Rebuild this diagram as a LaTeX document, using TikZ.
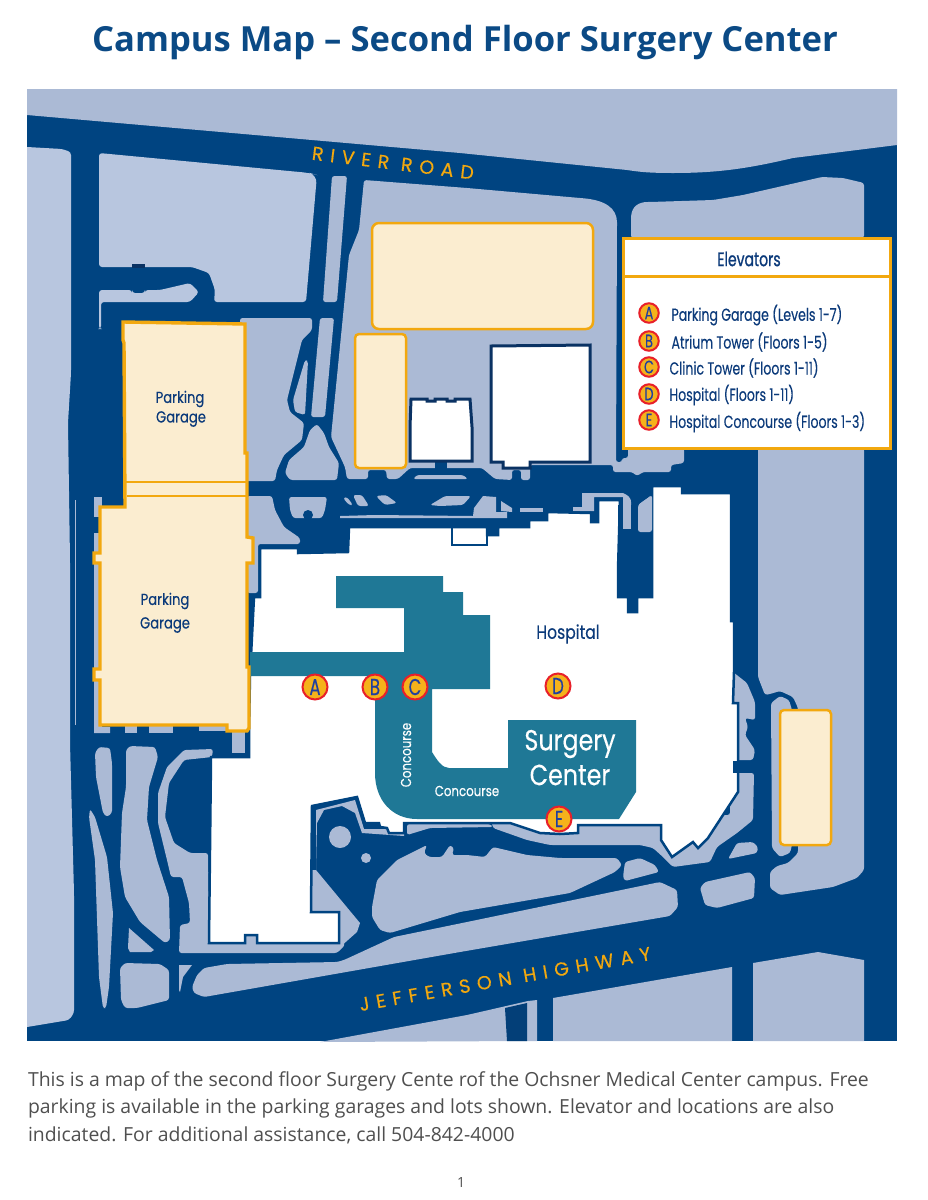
\documentclass[tikz,border=0pt]{standalone}
\usepackage{fontspec}
\setmainfont{Open Sans}
\newfontfamily\futurafont[FakeStretch=0.82,FakeBold=0.25]{Poppins}
\newfontfamily\futuranarrow[FakeStretch=0.72,FakeBold=0.2]{Poppins}
\newfontfamily\futuraheavy[FakeStretch=0.72,FakeBold=0.9]{Poppins}
\newfontfamily\roadfont[LetterSpace=36,FakeBold=0.3]{Poppins}
\definecolor{roadblue}{HTML}{004481}
\definecolor{lotblue}{HTML}{ABBAD5}
\definecolor{paleblue}{HTML}{B8C6DF}
\definecolor{creamfill}{HTML}{FBEDD0}
\definecolor{garageline}{HTML}{F2A80F}
\definecolor{tealblock}{HTML}{1F7896}
\definecolor{inkblue}{HTML}{0B3A7A}
\definecolor{titleblue}{HTML}{0B4A85}
\definecolor{darkline}{HTML}{0A3263}
\definecolor{greytext}{HTML}{4F4F4F}
\definecolor{badgered}{HTML}{E8202A}
\definecolor{badgefill}{HTML}{F5B21B}
\definecolor{badgeink}{HTML}{1F3FA0}
\tikzset{
  lot/.style={fill=lotblue,rounded corners=2.5pt},
  palelot/.style={fill=paleblue,rounded corners=3pt},
  sharplot/.style={fill=lotblue},
  tower/.style={fill=white,draw=darkline,line width=3pt},
  hospitalshape/.style={fill=white,draw=roadblue,line width=2.5pt},
  lotbox/.style={fill=creamfill,draw=garageline,line width=2.5pt,rounded corners=7pt},
  garageshape/.style={fill=creamfill,draw=garageline,line width=3.4pt},
  badge/.style={circle,fill=badgefill,draw=badgered,line width=2pt,inner sep=0pt,minimum size=25pt,text=badgeink,font=\futuranarrow\fontsize{23}{23}\selectfont},
  keybadge/.style={badge,minimum size=19.5pt,font=\futuranarrow\fontsize{18}{18}\selectfont},
  keytext/.style={anchor=west,text=inkblue,font=\futuranarrow\fontsize{17.4}{17.4}\selectfont},
  maplabel/.style={text=inkblue,font=\futurafont\fontsize{16}{16}\selectfont},
  concourselabel/.style={text=white,font=\futurafont\fontsize{14.4}{14.4}\selectfont},
  surgerylabel/.style={text=white,font=\futurafont\fontsize{29}{29}\selectfont},
  roadlabel/.style={text=garageline,font=\roadfont\fontsize{19}{19}\selectfont},
  footline/.style={anchor=west,text=greytext,font=\fontseries{l}\fontsize{19.4}{19.4}\selectfont},
}
\begin{document}
\begin{tikzpicture}[x=1pt,y=-1pt]
    \useasboundingbox (0,0) rectangle (927,1200);
    \fill[roadblue] (27,89) rectangle (897,1041);

    \fill[sharplot] (27,89) -- (897,89) -- (897,145) -- (793,158) .. controls (750,168) and (720,173) .. (673,173) .. controls (650,173) and (640,172) .. (627,170) -- (460,153) -- (27,115) -- cycle;
    \fill[fill=paleblue] (27,147) [rounded corners=3pt] -- (62,149) -- (71,152) -- (71,373) -- (68,423) -- (70,560) -- (70,743) -- (74,893) -- (74,1013) -- (69,1020) [sharp corners] -- (27,1027) -- cycle;
    \fill[fill=paleblue,rounded corners=8pt] (99,153) -- (310,173) -- (317,175) [rounded corners=3pt] -- (306,302) -- (214,302) -- (215,290) -- (209,273) -- (192,267) -- (99,267) -- cycle;
    \fill[darkline] (132,264) rectangle (145,268);
    \fill[palelot] (99,290) -- (132,290) -- (132,293) -- (145,293) -- (145,290) -- (160,290) -- (190,283) -- (199,292) -- (190,302) -- (101,302) -- (101,329) -- (99,329) -- cycle;
    \fill[lot] (332,176) -- (347,176) -- (337,302) -- (323,302) -- cycle;

    \fill[lot] (364,180) -- (467,188) -- (580,198) .. controls (605,200) and (617,208) .. (617,225) -- (616,462) -- (622,462) -- (622,458) -- (628,458) -- (628,448) -- (684,448) -- (684,463) -- (671,465) -- (671,472) -- (643,472) -- (637,476) -- (632,472) -- (613,472) -- (613,465) -- (530,465) -- (530,480) -- (521,480) -- (521,470) -- (512,470) -- (512,480) -- (495,479) -- (482,468) -- (410,468) -- (398,479) -- (387,479) -- (386,470) -- (368,470) -- (368,479) -- (347,479) -- (345,467) -- (331,437) -- (349,255) -- (359,230) -- cycle;
    \fill[roadblue] (435,458) rectangle (447,477);
    \fill[lot] (413,479) -- (417,475) -- (463,475) -- (468,479) -- cycle;
    \fill[lot] (631,238) -- (631,218) .. controls (632,207) and (638,202) .. (650,202) -- (713,200) -- (743,195) -- (822,177) -- (843,178) -- (864,183) -- (864,238) -- cycle;

    \fill[lot] (240,318) -- (312,318) -- (312,330) -- (302,340) -- (287,400) -- (290,412) -- (304,423) -- (302,440) -- (284,455) -- (277,470) -- (275,481) -- (240,481) -- cycle;
    \fill[lot] (305,360) -- (308,361) -- (305,415) -- (295,412) -- (293,400) -- cycle;
    \fill[lot] (320,318) -- (334,318) -- (325,417) -- (311,417) -- cycle;
    \fill[lot] (317,424) -- (324,433) -- (329,447) -- (339,463) -- (337,480) -- (290,480) -- (285,473) -- (289,460) -- (304,447) -- (310,430) -- cycle;

    \fill[lot] (289,497) -- (327,497) -- (325,510) -- (322,518) -- (293,518) -- (290,510) -- cycle;
    \fill[roadblue] (308,515) circle (5);
    \fill[lot] (343,498) -- (347,497) -- (353,505) -- (349,505) -- cycle;
    \fill[lot] (353,495) -- (362,495) -- (369,506) -- (358,506) -- cycle;
    \fill[lot] (376,496) -- (386,495) -- (397,503) -- (385,505) -- cycle;
    \fill[lot] (430,505) -- (445,496) -- (471,496) -- (463,505) -- (440,506) -- cycle;
    \fill[sharplot] (340,516) -- (375,515) -- (473,516) -- (474,508) -- (483,496) -- (496,497) -- (496,512) -- (507,512) -- (507,518) -- (340,518) -- cycle;
    \fill[sharplot] (501,501) -- (512,508) -- (512,512) -- (501,511) -- cycle;
    \fill[sharplot] (520,508) -- (543,508) -- (543,512) -- (520,512) -- cycle;
    \fill[sharplot] (573,507) -- (582,507) -- (582,493) -- (623,493) .. controls (628,495) and (631,498) .. (631,502) -- (631,529) -- (623,529) -- (623,497) -- (594,497) -- (594,511) -- (573,511) -- cycle;
    \fill[lot] (638,505) -- (652,495) -- (652,532) -- (638,532) -- cycle;
    \fill[lot] (247,496) -- (272,496) -- (275,510) -- (284,527) -- (300,538) -- (300,544) -- (258,544) -- (258,593) -- (247,593) -- cycle;

    % garage side strips
    \fill[sharplot] (94,497) rectangle (102,517);
    \fill[sharplot] (94,533) rectangle (102,733) (94,727) rectangle (110,733);
    \fill[sharplot] (125,725) rectangle (137,733);
    \fill[sharplot] (149,725) rectangle (173,733);
    \fill[sharplot] (199,725) rectangle (227,731);
    \fill[sharplot] (232,728) rectangle (245,753);
    \draw[lotblue,line width=0.6pt] (75,500) -- (75,725);

    \fill[lot] (213,749) -- (184,750) -- (167,767) -- (158,793) -- (158,823) -- (167,860) -- (171,877) -- (182,877) -- (189,903) -- (190,923) -- (180,925) -- (179,953) -- (337,953) -- (345,945) -- (339,930) -- (209,930) -- (208,853) -- (190,853) -- (174,843) -- (165,817) -- (169,783) -- (184,760) -- (212,757) -- cycle;
    \fill[lot] (99,747) -- (110,748) -- (112,763) -- (112,813) -- (107,817) -- (103,813) -- (96,777) -- (95,753) -- cycle;
    \fill[lot] (130,746) -- (155,747) -- (158,757) -- (149,787) -- (147,820) -- (157,860) -- (169,897) -- (170,940) -- (165,943) -- (140,922) -- (125,897) -- (120,867) -- (122,813) -- (126,787) -- (126,750) -- cycle;
    \fill[lot] (90,809) -- (95,817) -- (107,857) -- (113,913) -- (109,987) -- (106,1008) -- (103,1008) -- (99,977) -- (95,860) -- (89,817) -- cycle;
    \fill[sharplot] (129,928) -- (154,950) -- (151,952) -- (130,952) -- (128,948) -- cycle;
    \fill[lot] (125,963) -- (160,964) -- (169,970) -- (169,1000) -- (137,1008) -- (125,1008) -- (121,1000) -- (120,968) -- cycle;
    \fill[sharplot] (179,965) -- (192,965) -- (183,977) -- (180,992) -- (179,990) -- cycle;

    \fill[lot] (192,987) -- (197,975) -- (204,968) -- (227,964) -- (337,962) -- (344,960) -- (394,937) -- (467,922) -- (660,882) -- (677,890) -- (678,907) -- (670,916) -- (460,952) -- (204,997) -- (194,993) -- cycle;
    \fill[lot] (372,907) -- (377,880) -- (397,860) -- (427,845) -- (424,853) -- (429,857) -- (442,857) -- (450,845) -- (454,848) -- (452,855) -- (467,855) -- (485,857) -- (493,847) -- (527,855) -- (560,858) -- (617,858) -- (622,865) -- (615,872) -- (570,893) -- (460,912) -- (390,933) -- (380,930) -- (372,917) -- cycle;
    \fill[lot] (625,862) -- (640,858) -- (655,865) -- (659,872) -- (625,881) -- (623,877) -- cycle;
    \fill[lot] (700,888) -- (705,882) -- (750,872) -- (755,878) -- (754,898) -- (717,908) -- (705,905) -- cycle;
    \fill[lot] (728,859) -- (737,843) -- (753,842) -- (758,847) -- (757,853) -- cycle;

    \fill[lot] (758,448) -- (864,448) -- (864,870) -- (857,878) -- (833,887) -- (780,895) -- (770,888) -- (770,872) -- (777,866) -- (788,863) -- (798,853) -- (798,708) -- (793,697) -- (780,691) -- (770,694) -- (765,695) -- (758,677) -- cycle;
    \fill[lot] (771,703) -- (780,696) -- (789,700) -- (792,710) -- (792,845) -- (790,853) -- (780,857) -- (772,848) -- cycle;

    \fill[sharplot] (320,1042) -- (467,1015) -- (528,1001) -- (528,1041) -- cycle;
    \fill[darkline!30!roadblue] (505,1008) -- (527,1003) -- (527,1041) -- (507,1041) -- cycle;
    \fill[sharplot] (528,1001) -- (537,1000) -- (537,1041) -- (528,1041) -- cycle;
    \fill[sharplot] (553,998) -- (732,967) -- (732,1041) -- (553,1041) -- cycle;
    \fill[sharplot] (753,963) -- (818,952) -- (864,960) -- (864,1041) -- (753,1041) -- cycle;

    \fill[lot] (733,672) -- (747,683) -- (755,702) -- (755,720) -- (745,718) -- (748,727) -- (745,735) -- (755,750) -- (753,760) -- (730,760) -- cycle;
    \fill[lot] (730,773) -- (754,773) -- (753,820) -- (737,833) -- (717,847) -- (710,862) -- (673,867) -- (663,857) -- (653,848) -- (640,845) -- (550,845) -- (527,840) -- (493,828) -- (490,815) -- (730,815) -- cycle;
    \fill[lot] (407,824) -- (490,824) -- (493,827) -- (430,828) -- (407,835) -- cycle;
    \fill[sharplot] (316,810) -- (355,800) -- (364,829) -- (404,829) -- (404,836) -- (362,833) -- (355,813) -- (342,806) -- (324,810) -- (317,823) -- (316,870) -- cycle;
    \fill[sharplot] (316,870) -- (360,923) -- (357,932) -- (339,948) -- (300,948) -- (300,870) -- cycle;
    \fill[lotblue] (340,837) circle (11);
    \fill[lotblue] (366,858) circle (5);

    % hospital
    \draw[hospitalshape] (260,548) -- (298,548) -- (298,553) -- (348,552) -- (349,527) -- (487,527) -- (487,535) -- (498,535) -- (498,527) -- (529,527) -- (529,520) -- (547,520) -- (547,512) -- (591,513) -- (591,522) -- (598,522) -- (598,500) -- (620,500) -- (618,570) -- (618,597) -- (628,597) -- (628,612) -- (637,612) -- (637,597) -- (652,597) -- (652,486) -- (682,486) -- (682,493) -- (731,493) -- (731,621) -- (734,621) -- (734,672) -- (733,703) -- (738,703) -- (738,767) -- (738,792) -- (708,838) -- (698,848) -- (693,842) -- (672,857) -- (661,840) -- (661,825) -- (578,825) -- (578,833) -- (560,834) -- (540,833) -- (510,823) -- (404,823) -- (404,833) -- (389,833) -- (387,828) -- (380,827) -- (379,823) -- (365,823) -- (357,797) -- (312,806) -- (311,912) -- (339,912) -- (339,943) -- (257,943) -- (257,935) -- (245,935) -- (245,943) -- (209,943) -- (211,757) -- (249,757) -- (249,730) -- (250,676) -- (254,597) -- (260,597) -- cycle;
    \fill[roadblue] (618,505) rectangle (652,597);
    \fill[roadblue] (628,597) rectangle (637,612);
    \fill[lot] (638,505) -- (652,495) -- (652,532) -- (638,532) -- cycle;
    \fill[sharplot] (623,500) rectangle (631,529);
    \fill[roadblue] (733,761) rectangle (755,773);
    \draw[roadblue,line width=2.5pt] (452,527) -- (452,545) -- (487,545) -- (487,535);

    \fill[tealblock] (336,576) -- (443,576) -- (443,592) -- (463,592) -- (463,615) -- (490,615) -- (490,689) -- (432,689) -- (432,752) .. controls (437,760) and (442,768) .. (449,768) -- (508,768) -- (508,720) -- (636,720) -- (636,792) -- (619,819) -- (417,819) .. controls (392,819) and (375,800) .. (375,773) -- (375,676) -- (250,676) -- (250,652) -- (404,652) -- (404,608) -- (336,608) -- cycle;

    \draw[tower] (411,399) -- (427,399) -- (427,401) -- (435,401) -- (435,399) -- (447,399) -- (447,401) -- (455,401) -- (455,399) -- (470,399) -- (472,427) -- (472,461) -- (410,461) -- (410,427) -- cycle;
    \draw[tower] (491,346) -- (590,345) -- (590,462) -- (530,462) -- (530,468) -- (503,468) -- (503,462) -- (491,462) -- cycle;

    \draw[lotbox] (372,223) rectangle (593,329);
    \draw[lotbox,rounded corners=4pt] (355,334) rectangle (406,468);
    \draw[lotbox,rounded corners=4pt] (780,710) rectangle (831,845);

    \draw[garageshape] (123,322) -- (245,324) -- (245,453) -- (247,453) -- (247,537) -- (253,538) -- (253,563) -- (247,563) -- (247,667) -- (249,667) -- (249,728) -- (247,731) -- (227,731) -- (227,725) -- (100,725) -- (100,680) -- (94,680) -- (94,669) -- (100,669) -- (100,563) -- (94,563) -- (94,553) -- (100,553) -- (100,507) -- (125,507) -- (124,343) -- (123,340) -- cycle;
    \draw[garageline,line width=1.5pt] (125,482) -- (247,482);
    \draw[garageline,line width=1.5pt] (127,496) -- (247,496);

    \fill[white,draw=garageline,line width=3pt] (623,238) rectangle (890,448);
    \draw[garageline,line width=3pt] (623,276) -- (890,276);

    \node[text=titleblue,font=\bfseries\fontsize{34.6}{34.6}\selectfont] (title) at (465,43) {Campus Map -- Second Floor Surgery Center};

    \node[roadlabel,rotate=-7] (river) at (393,163) {RIVER ROAD};
    \node[roadlabel,rotate=10] (jefferson) at (505,979) {JEFFERSON HIGHWAY};

    \node[maplabel] (garage1a) at (180,399) {Parking};
    \node[maplabel] (garage1b) at (181,419) {Garage};
    \node[maplabel] (garage2a) at (165,601) {Parking};
    \node[maplabel] (garage2b) at (165,625) {Garage};
    \node[maplabel,font=\futurafont\fontsize{19}{19}\selectfont] (hospital) at (568,634) {Hospital};
    \node[concourselabel,rotate=90] (conc1) at (406,755) {Concourse};
    \node[concourselabel] (conc2) at (467,791) {Concourse};
    \node[surgerylabel] (surgery) at (570,744) {Surgery};
    \node[surgerylabel] (center) at (570,775) {Center};

    \node[badge] (a) at (315,687) {A};
    \node[badge] (b) at (375,687) {B};
    \node[badge] (c) at (415,687) {C};
    \node[badge] (d) at (558,686) {D};
    \node[badge] (e) at (559,819) {E};

    \node[text=inkblue,font=\futuraheavy\fontsize{19.5}{19.5}\selectfont] (elevators) at (749,259) {Elevators};
    \node[keybadge] (keya) at (649,313) {A};
    \node[keybadge] (keyb) at (649,341) {B};
    \node[keybadge] (keyc) at (649,367) {C};
    \node[keybadge] (keyd) at (649,394) {D};
    \node[keybadge] (keye) at (649,420) {E};
    \node[keytext] (texta) at (668,315) {Parking Garage (Levels 1-7)};
    \node[keytext] (textb) at (668,342) {Atrium Tower (Floors 1-5)};
    \node[keytext] (textc) at (666,368) {Clinic Tower (Floors 1-11)};
    \node[keytext] (textd) at (666,395) {Hospital (Floors 1-11)};
    \node[keytext] (texte) at (666,422) {Hospital Concourse (Floors 1-3)};

    \node[footline] (foot1) at (24.5,1081) {This is a map of the second floor Surgery Cente rof the Ochsner Medical Center campus. Free};
    \node[footline] (foot2) at (24.5,1108) {parking is available in the parking garages and lots shown. Elevator and locations are also};
    \node[footline] (foot3) at (24.5,1135) {indicated. For additional assistance, call 504-842-4000};
    \node[text=greytext,font=\fontsize{14}{14}\selectfont] (page) at (461,1182) {1};
\end{tikzpicture}
\end{document}
